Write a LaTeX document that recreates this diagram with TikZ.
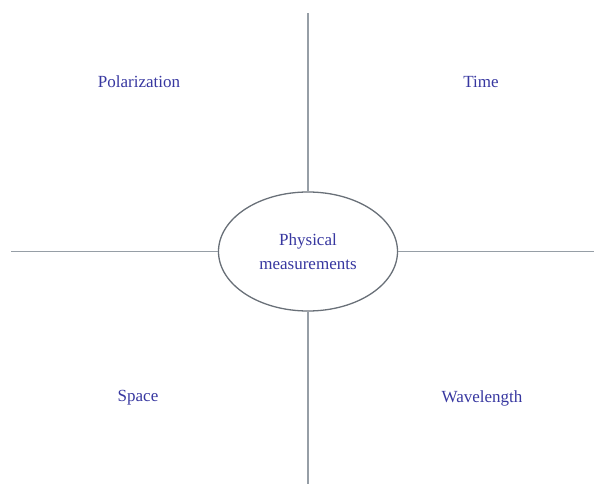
\documentclass[tikz,border=0pt]{standalone}
\usepackage{fontspec}
\setmainfont{Liberation Serif}
\usetikzlibrary{shapes.geometric}
\definecolor{txtblue}{RGB}{55,55,160}
\definecolor{linegray}{RGB}{150,158,166}
\definecolor{ellgray}{RGB}{105,112,120}
\begin{document}
\begin{tikzpicture}[x=1pt,y=-1pt,
  lab/.style={text=txtblue,font=\fontsize{17}{21}\selectfont,inner sep=0pt},
  axis/.style={draw=linegray,line width=1.3pt}]
\useasboundingbox (0,0) rectangle (594,484);
\node[ellipse,draw=ellgray,line width=1.3pt,fill=white,minimum width=179pt,minimum height=119pt,inner sep=0pt,
  text=txtblue,font=\fontsize{17}{24}\selectfont,align=center] (c) at (308,251.5) {Physical\\measurements};
\coordinate (top) at (308,13);
\coordinate (bot) at (308,484);
\coordinate (lft) at (11,251.5);
\coordinate (rgt) at (594,251.5);
\draw[axis] (c.north) -- (top);
\draw[axis] (c.south) -- (bot);
\draw[axis] (c.west) -- (lft);
\draw[axis] (c.east) -- (rgt);
\node[lab] (pol) at (139,82) {Polarization};
\node[lab] (time) at (481,82) {Time};
\node[lab] (space) at (138,398) {Space};
\node[lab] (wave) at (482,398) {Wavelength};
\end{tikzpicture}
\end{document}
